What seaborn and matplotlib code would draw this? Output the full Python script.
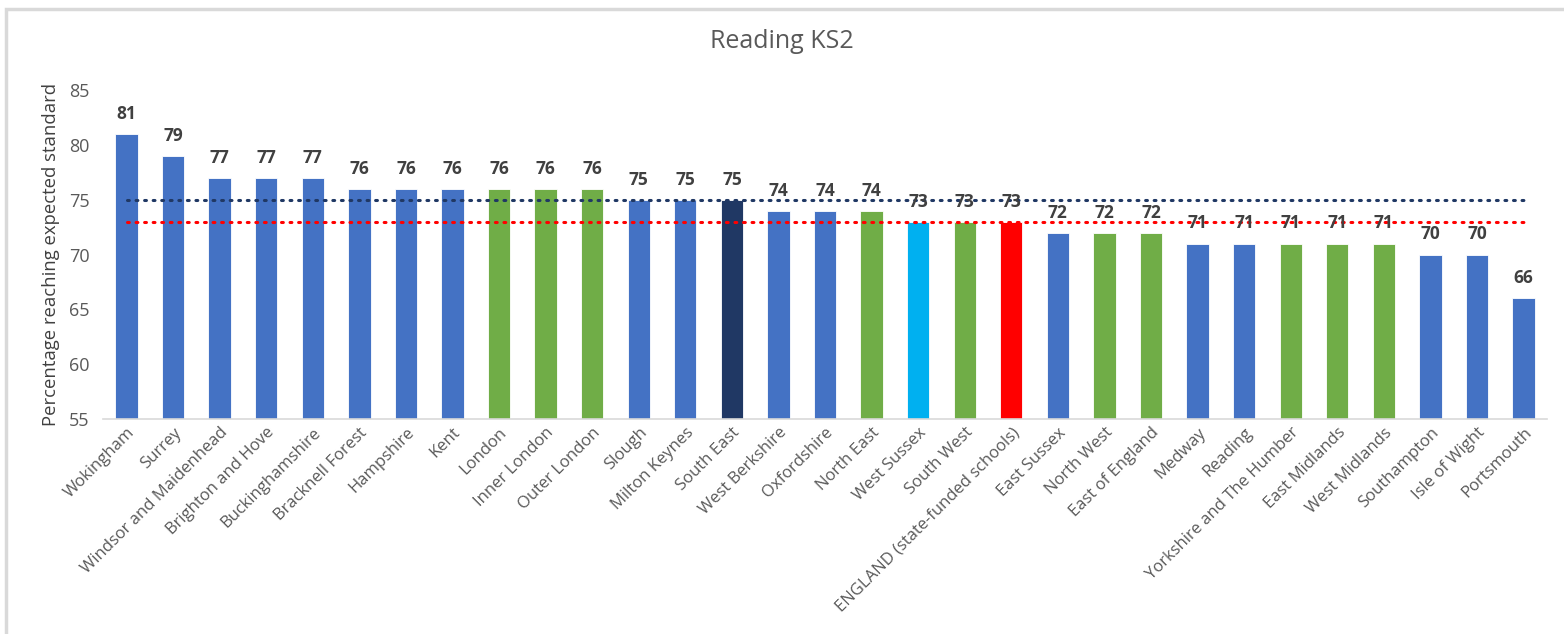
import numpy as np
import pandas as pd
import matplotlib.pyplot as plt
import seaborn as sns
from matplotlib.patches import Rectangle

areas = ["Wokingham", "Surrey", "Windsor and Maidenhead", "Brighton and Hove",
         "Buckinghamshire", "Bracknell Forest", "Hampshire", "Kent", "London",
         "Inner London", "Outer London", "Slough", "Milton Keynes", "South East",
         "West Berkshire", "Oxfordshire", "North East", "West Sussex", "South West",
         "ENGLAND (state-funded schools)", "East Sussex", "North West", "East of England",
         "Medway", "Reading", "Yorkshire and The Humber", "East Midlands",
         "West Midlands", "Southampton", "Isle of Wight", "Portsmouth"]
pct = [81, 79, 77, 77, 77, 76, 76, 76, 76, 76, 76, 75, 75, 75, 74, 74, 74,
       73, 73, 73, 72, 72, 72, 71, 71, 71, 71, 71, 70, 70, 66]
# area type decides bar colour
kind = ["la", "la", "la", "la", "la", "la", "la", "la", "region", "region", "region",
        "la", "la", "south_east", "la", "la", "region", "west_sussex", "region",
        "england", "la", "region", "region", "la", "la", "region", "region",
        "region", "la", "la", "la"]
south_east_avg = 75
england_avg = 73

kind_colors = {"la": "#4472C4", "region": "#70AD47", "south_east": "#203864",
               "west_sussex": "#00B0F0", "england": "#FF0000"}

df = pd.DataFrame({"area": areas, "pct": pct, "kind": kind})

sns.set_style("white")
plt.rcParams['font.family'] = ['Open Sans', 'DejaVu Sans']

fig = plt.figure(figsize=(15.64, 6.34), dpi=100)
ax = fig.add_axes([0.066, 0.339, 0.923, 0.519])

palette = {a: kind_colors[k] for a, k in zip(areas, kind)}
sns.barplot(data=df, x="area", y="pct", hue="area", palette=palette,
            width=0.48, legend=False, ax=ax, saturation=1,
            edgecolor="white", linewidth=0.6)

x = np.arange(len(areas))
ax.plot(x, [south_east_avg] * len(areas), linestyle=(0, (0.6, 2.2)), color="#203864",
        lw=2.2, dash_capstyle="round")
ax.plot(x, [england_avg] * len(areas), linestyle=(0, (0.6, 2.2)), color="#FF0000",
        lw=2.2, dash_capstyle="round")

for i, v in enumerate(pct):
    ax.annotate(f"{v}", (i, v), xytext=(0, 8), textcoords="offset points",
                ha="center", va="bottom", fontsize=12.5, fontweight="bold", color="#404040")

ax.set_ylim(55, 85)
ax.set_xlim(-0.5, len(areas) - 0.5)
ax.set_yticks(range(55, 90, 5))
ax.tick_params(axis="y", labelsize=13, colors="#595959", length=0, pad=10)
ax.tick_params(axis="x", labelsize=12, colors="#595959", length=0, pad=4)
plt.setp(ax.get_xticklabels(), rotation=45, ha="right", rotation_mode="anchor")
ax.set_xlabel("")
ax.set_ylabel("Percentage reaching expected standard", fontsize=13.3, color="#404040", labelpad=6)
fig.suptitle("Reading KS2", x=0.5, y=0.955, fontsize=18, color="#595959")

for s in ["top", "right", "left"]:
    ax.spines[s].set_visible(False)
ax.spines["bottom"].set_color("#D9D9D9")
ax.spines["bottom"].set_linewidth(1.2)

# light grey chart-area frame
fig.patches.append(Rectangle((6 / 1564, -0.05), 1.1, (634 - 9) / 634 + 0.05,
                             transform=fig.transFigure, fill=False,
                             edgecolor="#D9D9D9", linewidth=2.5))

plt.savefig("out.png", dpi=100)
